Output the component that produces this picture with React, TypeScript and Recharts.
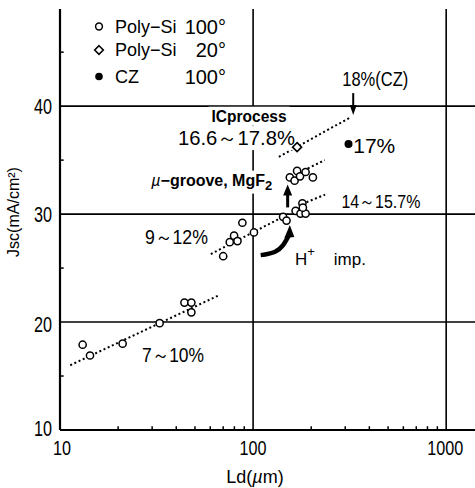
import React, { useLayoutEffect, useRef, useState } from 'react';
import { ComposedChart, XAxis, YAxis, CartesianGrid, Scatter, Line, ReferenceLine } from 'recharts';

const FONT = "'Liberation Sans', Arial, sans-serif";

// ---- data (x = Ld in µm, y = Jsc in mA/cm²) ----
const polySi100 = [
  { x: 13.1, y: 17.9 }, { x: 14.3, y: 16.9 }, { x: 21.1, y: 18.0 }, { x: 32.8, y: 19.9 },
  { x: 44.1, y: 21.8 }, { x: 47.9, y: 21.8 }, { x: 47.9, y: 20.9 },
  { x: 70.0, y: 26.1 }, { x: 75.7, y: 27.4 }, { x: 79.7, y: 28.0 }, { x: 83.0, y: 27.5 },
  { x: 88.0, y: 29.2 }, { x: 101, y: 28.3 }, { x: 143, y: 29.75 }, { x: 149, y: 29.4 },
  { x: 166, y: 30.3 }, { x: 176, y: 30.05 }, { x: 187, y: 30.05 }, { x: 180, y: 31.0 }, { x: 181, y: 30.6 },
  { x: 155, y: 33.4 }, { x: 164, y: 33.1 }, { x: 169, y: 34.0 }, { x: 175, y: 33.5 },
  { x: 187, y: 33.9 }, { x: 204, y: 33.4 },
];
const polySi20 = [{ x: 169, y: 36.2 }];
const cz100 = [{ x: 312, y: 36.5 }];

const trend7to10 = [{ x: 11.3, y: 16.0 }, { x: 66.9, y: 22.5 }];
const trend9to12 = [{ x: 60.4, y: 26.3 }, { x: 143, y: 29.75 }];
const trend14to15 = [{ x: 189, y: 31.1 }, { x: 236, y: 31.8 }];
const trendGroove = [{ x: 150, y: 33.3 }, { x: 235, y: 35.0 }];
const trendIC = [{ x: 136, y: 35.3 }, { x: 322, y: 39.0 }];

const hImpCurve = [{ x: 109.5, y: 26.2 }, { x: 130, y: 26.51 }, { x: 143, y: 27.13 }, { x: 152.5, y: 27.96 }];

const xTicks = [10, 100, 1000];
const yTicks = [10, 20, 30, 40];
const xMinorTicks = [20, 30, 40, 50, 60, 70, 80, 90, 200, 300, 400, 500, 600, 700, 800, 900];
const yMinorTicks = [15, 25, 35, 45];

const labels = [
  { id: 'ic', x: 95.3, y: 39.07, text: 'ICprocess' },
  { id: 'ic2', x: 82.0, y: 37.04, text: '16.6～17.8%' },
  { id: 'groove', x: 61.1, y: 33.15, text: 'µ−groove, MgF2' },
  { id: 'r912', x: 40.1, y: 27.87, text: '9～12%' },
  { id: 'r710', x: 38.5, y: 16.94, text: '7～10%' },
  { id: 'r1415', x: 459, y: 31.2, text: '14～15.7%' },
  { id: 'himp', x: 165, y: 25.83, text: 'H+ imp.' },
  { id: 'cz17', x: 424, y: 36.39, text: '17%' },
  { id: 'cz18', x: 429, y: 42.59, text: '18%(CZ)' },
];

const arrows = [
  { id: 'down', x: 330, y: 39.17, dir: 'down' },
  { id: 'up', x: 151, y: 32.75, dir: 'up' },
  { id: 'curve', x: 155, y: 28.98, dir: 'up' },
];

const legendRows = [
  { marker: 'circle', name: 'Poly−Si', angle: '100°' },
  { marker: 'diamond', name: 'Poly−Si', angle: '20°' },
  { marker: 'dot', name: 'CZ', angle: '100°' },
];

const labelStyle: Record<string, any> = {
  ic: { fontSize: 16, fontWeight: 'bold', len: 75, bg: true },
  ic2: { fontSize: 20, len: 117, bg: true },
  groove: { fontSize: 16, fontWeight: 'bold', bg: true },
  r912: { fontSize: 20, len: 63 },
  r710: { fontSize: 20, len: 62 },
  r1415: { fontSize: 19, len: 79 },
  himp: { fontSize: 17, anchor: 'start' },
  cz17: { fontSize: 21, len: 42 },
  cz18: { fontSize: 21, len: 66 },
};

function BgText(props: any) {
  const { x, y, fontSize, fontWeight, len, bg, anchor, children } = props;
  const ref = useRef<SVGTextElement>(null);
  const [box, setBox] = useState<any>(null);
  useLayoutEffect(() => {
    if (bg && ref.current) {
      const b = ref.current.getBBox();
      setBox({ x: b.x, y: b.y, w: b.width, h: b.height });
    }
  }, [x, y, bg]);
  return (
    <g>
      {bg && box && <rect x={box.x - 3} y={box.y - 1} width={box.w + 6} height={box.h + 2} fill="#fff" />}
      <text
        ref={ref}
        x={x}
        y={y}
        textAnchor={anchor || 'middle'}
        dominantBaseline="central"
        fontFamily={FONT}
        fontSize={fontSize}
        fontWeight={fontWeight || 'normal'}
        fill="#000"
        {...(len ? { textLength: len, lengthAdjust: 'spacingAndGlyphs' } : {})}
      >
        {children}
      </text>
    </g>
  );
}

function renderLabel(p: any) {
  const d = p.payload;
  const st = labelStyle[d.id] || {};
  let content: any = d.text;
  if (d.id === 'groove') {
    content = [
      <tspan key="a" fontStyle="italic" fontWeight="normal">µ</tspan>,
      <tspan key="b">−groove, MgF</tspan>,
      <tspan key="c" dy={5} fontSize={13}>2</tspan>,
    ];
  } else if (d.id === 'himp') {
    content = [
      <tspan key="a">H</tspan>,
      <tspan key="b" dy={-8} fontSize={13}>+</tspan>,
      <tspan key="c" dy={8}>{'\u00a0\u00a0\u00a0\u00a0imp.'}</tspan>,
    ];
  }
  return (
    <BgText x={p.cx} y={p.cy} {...st}>
      {content}
    </BgText>
  );
}

function renderArrow(p: any) {
  const d = p.payload;
  const { cx, cy } = p;
  if (d.id === 'down') {
    return (
      <g>
        <line x1={cx} y1={cy - 22} x2={cx} y2={cy - 8} stroke="#000" strokeWidth={2} />
        <polygon points={`${cx - 3.5},${cy - 10} ${cx + 3.5},${cy - 10} ${cx},${cy}`} fill="#000" />
      </g>
    );
  }
  if (d.id === 'up') {
    return (
      <g>
        <line x1={cx} y1={cy + 23} x2={cx} y2={cy + 9} stroke="#000" strokeWidth={3} />
        <polygon points={`${cx - 4.5},${cy + 11} ${cx + 4.5},${cy + 11} ${cx},${cy}`} fill="#000" />
      </g>
    );
  }
  return <polygon points={`${cx - 5.5},${cy + 13} ${cx + 4.5},${cy + 12} ${cx},${cy}`} fill="#000" />;
}

const openCircle = (p: any) => <circle cx={p.cx} cy={p.cy} r={3.6} fill="#fff" stroke="#000" strokeWidth={1.5} />;
const diamond = (p: any) => (
  <polygon points={`${p.cx},${p.cy - 4.5} ${p.cx + 4.5},${p.cy} ${p.cx},${p.cy + 4.5} ${p.cx - 4.5},${p.cy}`} fill="#fff" stroke="#000" strokeWidth={1.6} />
);
const filledDot = (p: any) => <circle cx={p.cx} cy={p.cy} r={4} fill="#000" />;

const XTick = (p: any) => {
  const s = String(p.payload.value);
  return (
    <text x={p.x + (s === '10' ? 2 : s === '1000' ? -1 : 0)} y={p.y + 18} textAnchor="middle" dominantBaseline="central" fontFamily={FONT} fontSize={20}
      textLength={s.length * 9} lengthAdjust="spacingAndGlyphs" fill="#000">{s}</text>
  );
};
const YTick = (p: any) => {
  const s = String(p.payload.value);
  return (
    <text x={p.x} y={p.y + (s === '10' ? -2 : s === '20' ? 2 : 0)} textAnchor="end" dominantBaseline="central" fontFamily={FONT} fontSize={22}
      textLength={s.length * 9} lengthAdjust="spacingAndGlyphs" fill="#000">{s}</text>
  );
};

function LegendOverlay() {
  return (
    <svg width={240} height={100} style={{ position: 'absolute', left: 0, top: 0, pointerEvents: 'none' }}>
      {legendRows.map((r, i) => {
        const cy = [26.5, 50, 76.5][i];
        const cx = 99;
        return (
          <g key={i}>
            {r.marker === 'circle' && <circle cx={cx} cy={cy} r={3.4} fill="#fff" stroke="#000" strokeWidth={1.5} />}
            {r.marker === 'diamond' && (
              <polygon points={`${cx},${cy - 4.3} ${cx + 4.3},${cy} ${cx},${cy + 4.3} ${cx - 4.3},${cy}`} fill="#fff" stroke="#000" strokeWidth={1.6} />
            )}
            {r.marker === 'dot' && <circle cx={cx} cy={cy} r={3.8} fill="#000" />}
            <text x={115} y={cy} dominantBaseline="central" fontFamily={FONT} fontSize={18} fill="#000">{r.name}</text>
            <text x={226} y={cy} textAnchor="end" dominantBaseline="central" fontFamily={FONT} fontSize={20} fill="#000">{r.angle}</text>
          </g>
        );
      })}
    </svg>
  );
}

const dotted = { stroke: '#000', strokeWidth: 2, strokeDasharray: '2 2.6', dot: false, isAnimationActive: false, type: 'linear' as const, dataKey: 'y' };

export default function App() {
  return (
    <div style={{ position: 'absolute', left: 0, top: 0, width: 475, height: 488, background: '#fff' }}>
      <ComposedChart width={475} height={488} margin={{ top: 9, right: 0, bottom: 0, left: 0 }}>
        <CartesianGrid stroke="#000" strokeWidth={1.6} horizontalValues={yTicks} verticalValues={xTicks} />
        <XAxis
          dataKey="x"
          type="number"
          scale="log"
          domain={[10, 1410]}
          allowDataOverflow
          ticks={xTicks}
          height={58}
          tickLine={false}
          tickSize={0}
          tickMargin={0}
          axisLine={{ stroke: '#000', strokeWidth: 2.2 }}
          tick={<XTick />}
          label={{
            content: () => (
              <text x={255} y={477} textAnchor="middle" dominantBaseline="central" fontFamily={FONT} fontSize={18} fill="#000">
                Ld(<tspan fontStyle="italic">µ</tspan>m)
              </text>
            ),
          }}
        />
        <YAxis
          dataKey="y"
          type="number"
          domain={[10, 49]}
          allowDataOverflow
          ticks={yTicks}
          width={60}
          tickLine={false}
          tickSize={0}
          tickMargin={8}
          axisLine={{ stroke: '#000', strokeWidth: 2.2 }}
          tick={<YTick />}
          label={{
            content: () => (
              <text x={13} y={212} transform="rotate(-90 13 212)" textAnchor="middle" dominantBaseline="central" fontFamily={FONT} fontSize={16} fill="#000">
                Jsc(mA/cm²)
              </text>
            ),
          }}
        />
        {xMinorTicks.map((v) => (
          <ReferenceLine key={'xm' + v} segment={[{ x: v, y: 10 }, { x: v, y: 10.35 }]} stroke="#000" strokeWidth={1.5} />
        ))}
        {yMinorTicks.map((v) => (
          <ReferenceLine key={'ym' + v} segment={[{ x: 10, y: v }, { x: 10.45, y: v }]} stroke="#000" strokeWidth={1.5} />
        ))}
        <Line data={trend7to10} {...dotted} />
        <Line data={trend9to12} {...dotted} />
        <Line data={trend14to15} {...dotted} />
        <Line data={trendGroove} {...dotted} />
        <Line data={trendIC} {...dotted} />
        <Line data={hImpCurve} dataKey="y" type="monotone" stroke="#000" strokeWidth={4.5} dot={false} isAnimationActive={false} />
        <Scatter data={labels} dataKey="y" shape={renderLabel} isAnimationActive={false} />
        <Scatter data={arrows} dataKey="y" shape={renderArrow} isAnimationActive={false} />
        <Scatter data={polySi100} dataKey="y" shape={openCircle} isAnimationActive={false} />
        <Scatter data={polySi20} dataKey="y" shape={diamond} isAnimationActive={false} />
        <Scatter data={cz100} dataKey="y" shape={filledDot} isAnimationActive={false} />
      </ComposedChart>
      <LegendOverlay />
    </div>
  );
}
